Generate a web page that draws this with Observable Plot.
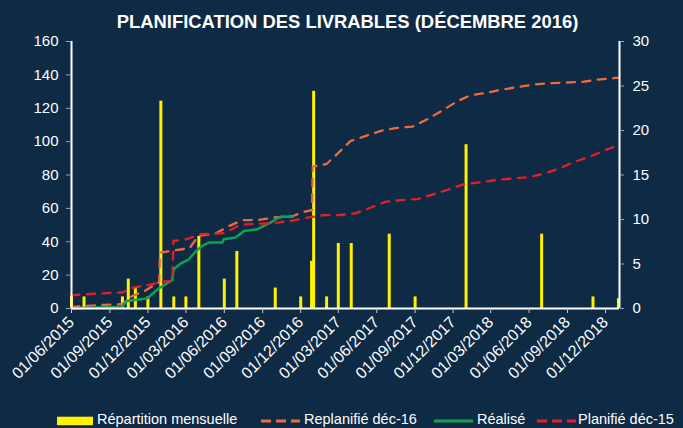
<!DOCTYPE html>
<html>
<head>
<meta charset="utf-8">
<script src="https://cdn.jsdelivr.net/npm/d3@7"></script>
<script src="https://cdn.jsdelivr.net/npm/@observablehq/plot@0.6"></script>
<style>
  html, body { margin: 0; padding: 0; background: #0e2a44; }
  #wrap { position: relative; width: 683px; height: 428px; background: #0e2a44; overflow: hidden;
          font-family: "Liberation Sans", Arial, Helvetica, sans-serif; color: #fff; }
  #title { position: absolute; left: 0; top: 12px; width: 695px; text-align: center;
           font-weight: bold; font-size: 18.4px; line-height: 20px; color: #fff; white-space: nowrap; }
  #chart { position: absolute; left: 0; top: 34px; }
  .leg { position: absolute; top: 411px; height: 16px; font-size: 14.5px; line-height: 16px; white-space: nowrap; color: #fff; }
  .sw { position: absolute; }
</style>
</head>
<body>
<div id="wrap">
  <div id="title">PLANIFICATION DES LIVRABLES (DÉCEMBRE 2016)</div>
  <div id="chart"></div>
</div>
<script>
// ---------- DATA ----------
const titleText = "PLANIFICATION DES LIVRABLES (DÉCEMBRE 2016)";

// Répartition mensuelle (right axis, 0-30)
const barDates = ["2015-06-01","2015-07-01","2015-10-01","2015-10-15","2015-11-01","2015-12-01",
  "2016-01-01","2016-02-01","2016-03-01","2016-04-01","2016-06-01","2016-07-01","2016-10-01",
  "2016-12-01","2016-12-27","2017-01-01","2017-02-01","2017-03-01","2017-04-01","2017-07-01",
  "2017-09-01","2018-01-01","2018-07-01","2018-11-01","2019-01-01"];
const barValues = [1.4,1.3,1.3,3.3,2.3,1.3,
  23.3,1.3,1.3,8.1,3.3,6.4,2.3,
  1.3,5.3,24.4,1.3,7.3,7.3,8.35,
  1.3,18.4,8.35,1.3,1.1];

// Replanifié déc-16 (left axis, cumulative)
const replanDates = ["2015-06-01","2015-07-05","2015-08-12","2015-09-20","2015-10-01","2015-10-20",
  "2015-11-23","2015-12-19","2015-12-28","2015-12-30","2016-02-03","2016-03-10","2016-03-31",
  "2016-05-11","2016-06-13","2016-07-15","2016-08-19","2016-09-27","2016-11-11","2016-12-08",
  "2016-12-28","2016-12-30","2017-02-01","2017-03-02","2017-03-30","2017-05-08","2017-06-13",
  "2017-07-20","2017-08-26","2017-10-01","2017-11-03","2017-12-07","2018-01-09","2018-02-19",
  "2018-03-27","2018-05-04","2018-06-12","2018-07-20","2018-08-27","2018-10-07","2018-11-12",
  "2018-12-20","2019-01-03"];
const replanValues = [0.9,1.5,2.1,2.5,2.8,6.9,
  10.5,14.5,16,33.5,34.8,36.2,43.5,
  45,49.5,53,53,54.5,55.3,57.9,
  59,85,86.6,93.5,100.3,103.6,106.6,
  108.2,109,113.5,118.3,123.6,127.6,129.3,
  131.1,132.7,134.2,135,135.4,135.8,137.1,
  138,138.4];

// Réalisé (left axis, cumulative)
const realDates = ["2015-06-01","2015-06-27","2015-09-30","2015-10-11","2015-10-25","2015-11-29",
  "2015-12-27","2016-01-12","2016-01-28","2016-02-01","2016-02-17","2016-03-08","2016-03-24",
  "2016-04-09","2016-04-25","2016-05-27","2016-05-31","2016-06-28","2016-07-18","2016-08-19",
  "2016-09-20","2016-10-06","2016-10-18","2016-11-13"];
const realValues = [0,0.3,1,4.5,5,6,
  12,14.5,16.9,23.5,26.9,29.5,34,
  37.5,39.5,39.5,41.5,42.5,46.5,47.5,
  51.5,54.1,55.1,55];

// Planifié déc-15 (left axis, cumulative)
const planDates = ["2015-06-01","2015-07-05","2015-08-12","2015-09-20","2015-10-01","2015-10-23",
  "2015-11-29","2015-12-26","2016-01-10","2016-01-29","2016-01-31","2016-03-02","2016-04-05",
  "2016-05-11","2016-06-01","2016-07-10","2016-09-03","2016-10-06","2016-11-14","2016-12-17",
  "2017-01-27","2017-03-04","2017-04-11","2017-05-18","2017-06-23","2017-07-29","2017-09-07",
  "2017-10-13","2017-11-20","2017-12-28","2018-02-05","2018-03-15","2018-04-23","2018-06-01",
  "2018-07-09","2018-08-15","2018-09-19","2018-10-26","2018-12-01","2019-01-01"];
const planValues = [7.9,8.5,9.1,9.5,9.6,12.3,
  13.9,15.5,16.1,16.6,40.5,41.5,44.5,
  44.9,45.2,50.3,50.9,51.5,52.8,54.5,
  56,56,57,60.5,64,65,65.6,
  68.3,71.3,74.6,75.6,77,77.9,78.8,
  80.9,84.2,88,91.1,95,97.8];

const xTickLabels = ["01/06/2015","01/09/2015","01/12/2015","01/03/2016","01/06/2016","01/09/2016",
  "01/12/2016","01/03/2017","01/06/2017","01/09/2017","01/12/2017","01/03/2018","01/06/2018",
  "01/09/2018","01/12/2018"];
const leftTicks = [0,20,40,60,80,100,120,140,160];
const rightTicks = [0,5,10,15,20,25,30];
const xDomain = ["2015-06-01","2019-01-03T12:00:00Z"];

const seriesNames = ["Répartition mensuelle","Replanifié déc-16","Réalisé","Planifié déc-15"];
const seriesColors = ["#fff200","#ee6a3e","#11a14f","#e61e28"];

// ---------- BUILD ----------
const parse = s => new Date(s.length === 10 ? s + "T00:00:00Z" : s);
const parseLabel = s => { const [d,m,y] = s.split("/"); return new Date(Date.UTC(+y, +m - 1, +d)); };
const LEFT_MAX = 160, RIGHT_MAX = 30;
const r2l = v => v * LEFT_MAX / RIGHT_MAX;

const bars = barDates.map((d,i) => ({date: parse(d), v: barValues[i]}));
const replan = replanDates.map((d,i) => ({date: parse(d), v: replanValues[i]}));
const real = realDates.map((d,i) => ({date: parse(d), v: realValues[i]}));
const plan = planDates.map((d,i) => ({date: parse(d), v: planValues[i]}));
const xTicks = xTickLabels.map(parseLabel);
const labelByTime = new Map(xTicks.map((d,i) => [+d, xTickLabels[i]]));
const dom = xDomain.map(parse);

const [YELLOW, ORANGE, GREEN, RED] = seriesColors;
const FONT = "'Liberation Sans', Arial, Helvetica, sans-serif";

const chart = Plot.plot({
  width: 683,
  height: 374,
  marginLeft: 71,
  marginRight: 64,
  marginTop: 7,
  marginBottom: 100,
  style: {background: "transparent", color: "white", fontFamily: FONT, fontSize: "15px", overflow: "visible"},
  x: {type: "utc", domain: dom},
  y: {domain: [0, LEFT_MAX]},
  marks: [
    Plot.ruleX(bars, {x: "date", y1: 0, y2: d => r2l(d.v), stroke: YELLOW, strokeWidth: 3}),
    Plot.line(replan, {x: "date", y: "v", stroke: ORANGE, strokeWidth: 2.3, strokeDasharray: "8,7.5"}),
    Plot.line(real, {x: "date", y: "v", stroke: GREEN, strokeWidth: 2.5}),
    Plot.line(plan, {x: "date", y: "v", stroke: RED, strokeWidth: 2.3, strokeDasharray: "8,7.5"}),
    Plot.ruleY([0], {stroke: "white", strokeWidth: 2}),
    Plot.ruleX(dom, {stroke: "white", strokeWidth: 2}),
    Plot.axisY(leftTicks, {anchor: "left", tickSize: 5, tickPadding: 8, stroke: "#9aa6b4",
      fill: "white", fontSize: 15, label: null}),
    Plot.axisY(rightTicks.map(r2l), {anchor: "right", tickSize: 4, tickPadding: 9, stroke: "#9aa6b4",
      fill: "white", fontSize: 15, label: null, tickFormat: v => String(Math.round(v * RIGHT_MAX / LEFT_MAX))}),
    Plot.axisX(xTicks, {anchor: "bottom", tickSize: 5, tickPadding: 6, tickRotate: -45, stroke: "#c8cdd4",
      fill: "white", fontSize: 16, label: null, tickFormat: d => labelByTime.get(+d)})
  ]
});
document.getElementById("chart").appendChild(chart);

// ---------- LEGEND ----------
const wrap = document.getElementById("wrap");
const legendItems = [
  {sw: [56.5, 36], text: 97,  kind: "rect"},
  {sw: [261, 39],  text: 304, kind: "dash"},
  {sw: [434, 39],  text: 477, kind: "line"},
  {sw: [536.5, 39], text: 578, kind: "dash"}
];
legendItems.forEach((it, i) => {
  const s = d3.create("svg").attr("class", "sw")
    .attr("width", it.sw[1]).attr("height", 10)
    .style("left", it.sw[0] + "px").style("top", "416px");
  if (it.kind === "rect") {
    s.append("rect").attr("x", 0).attr("y", 0.7).attr("width", it.sw[1]).attr("height", 8.5).attr("fill", seriesColors[i]);
  } else {
    s.append("line").attr("x1", 0).attr("x2", it.sw[1]).attr("y1", 5).attr("y2", 5)
      .attr("stroke", seriesColors[i]).attr("stroke-width", 3)
      .attr("stroke-dasharray", it.kind === "dash" ? "10,5" : null);
  }
  wrap.appendChild(s.node());
  const t = document.createElement("div");
  t.className = "leg";
  t.style.left = it.text + "px";
  t.textContent = seriesNames[i];
  wrap.appendChild(t);
});
</script>
</body>
</html>
